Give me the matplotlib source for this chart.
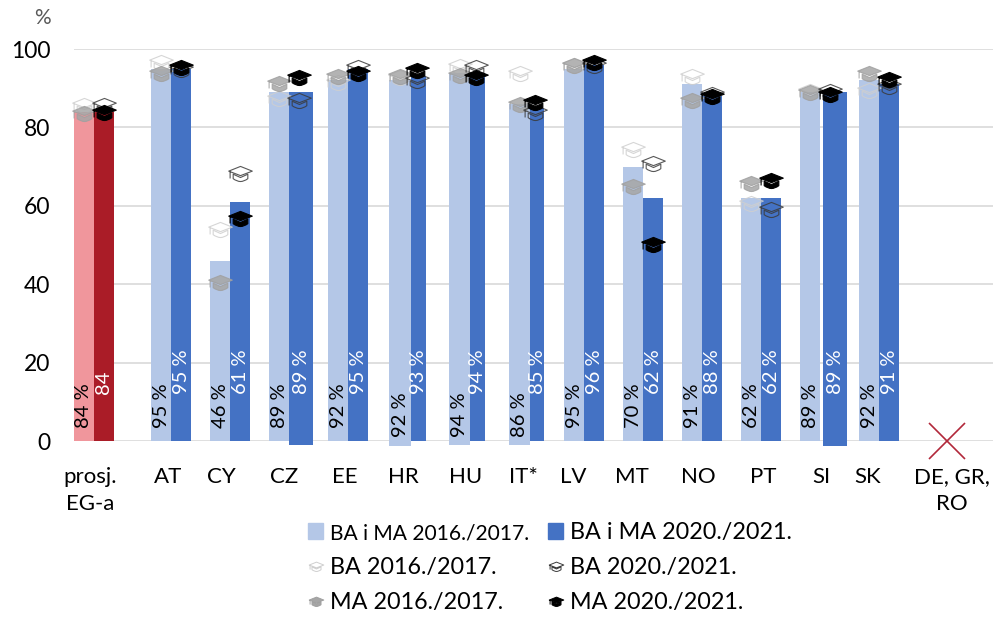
import numpy as np
import matplotlib
matplotlib.use("Agg")
import matplotlib.pyplot as plt
from matplotlib.path import Path
from matplotlib.patches import Patch
from matplotlib.lines import Line2D

plt.rcParams['font.family'] = ['Lato', 'DejaVu Sans']

categories = ['prosj.\nEG-a', 'AT', 'CY', 'CZ', 'EE', 'HR', 'HU', 'IT*', 'LV', 'MT', 'NO', 'PT', 'SI', 'SK', 'DE, GR,\nRO']
total_2016 = [84, 95, 46, 89, 92, 92, 94, 86, 95, 70, 91, 62, 89, 92]
total_2020 = [84, 95, 61, 89, 95, 93, 94, 85, 96, 62, 88, 62, 89, 91]
ba_2016 = [85.7, 96.6, 54.0, 87.4, 91.5, 92.8, 95.7, 94.0, 96.0, 74.4, 93.2, 60.7, 89.3, 89.6]
ma_2016 = [83.6, 94.0, 40.5, 91.4, 93.0, 93.0, 93.4, 86.0, 96.0, 65.0, 87.0, 65.7, 89.0, 93.8]
ba_2020 = [85.7, 95.0, 68.4, 87.0, 95.5, 92.0, 95.3, 84.0, 95.8, 70.8, 88.5, 59.2, 89.2, 90.5]
ma_2020 = [84.0, 95.3, 57.0, 92.8, 94.0, 94.6, 92.8, 86.6, 96.6, 50.3, 88.0, 66.7, 88.5, 92.3]

LEFT, RIGHT, TOP, BOTTOM = 74, 993, 49, 441
W, H = 993, 618
STEP = 59.0            # pixels per category

fig = plt.figure(figsize=(W / 100, H / 100), dpi=100)
ax = fig.add_axes([LEFT / W, 1 - BOTTOM / H, (RIGHT - LEFT) / W, (BOTTOM - TOP) / H])

# category centres: a wider gap after the average and before the last group
x = np.arange(len(categories), dtype=float)
x[1:] += 0.32
x[-1] += 0.14
x0 = 93.5
ax.set_xlim((LEFT - x0) / STEP, (RIGHT - x0) / STEP)
ax.set_ylim(0, 100)

# small per-bar layout quirks of the original (pixels): left offset, width, below-zero drop
light_style = {'HR': (-18, 22, 1.2), 'HU': (-17, 21, 1.0), 'IT*': (-16, 21, 1.0)}
dark_style = {'CZ': (0, 24, 1.0), 'SI': (3, 24, 1.2),
              'HR': (4, 15, 0), 'HU': (4, 15, 0), 'IT*': (5, 14, 0)}

n = len(total_2016)
for i in range(n):
    cat = categories[i]
    c_light, c_dark = ('#f0969c', '#aa1c27') if i == 0 else ('#b4c7e7', '#4472c4')
    off, wid, drop = dark_style.get(cat, (0, 20, 0))
    dleft = x[i] + off / STEP
    ax.bar(dleft, total_2020[i] + drop, wid / STEP, bottom=-drop, align='edge',
           color=c_dark, zorder=2, clip_on=False)
    off2, wid2, drop2 = light_style.get(cat, (-20, 20, 0))
    lleft = x[i] + off2 / STEP
    ax.bar(lleft, total_2016[i] + drop2, wid2 / STEP, bottom=-drop2, align='edge',
           color=c_light, zorder=3, clip_on=False)
    ax.text(lleft + wid2 / STEP / 2, 0.9 if drop2 else 3.3, f'{total_2016[i]} %', rotation=90,
            ha='center', va='bottom', fontsize=14.5, color='black', zorder=6)
    label = '84' if i == 0 else f'{total_2020[i]} %'
    ax.text(dleft + wid / STEP / 2, 12.0, label, rotation=90, ha='center', va='bottom',
            fontsize=14.5, color='white', zorder=6)

# graduation cap marker
bowl = [(-0.62, -0.06), (-0.62, -0.44), (-0.3, -0.68), (0.0, -0.68), (0.3, -0.68), (0.62, -0.44), (0.62, -0.06),
        (0.0, -0.34), (-0.62, -0.06)]
bowl_codes = [Path.MOVETO, Path.LINETO, Path.CURVE3, Path.CURVE3, Path.CURVE3, Path.CURVE3, Path.LINETO,
              Path.LINETO, Path.CLOSEPOLY]
board = [(-1, 0.2), (0, 0.6), (1, 0.2), (0, -0.18), (-1, 0.2)]
board_codes = [Path.MOVETO, Path.LINETO, Path.LINETO, Path.LINETO, Path.CLOSEPOLY]
tassel = [(-0.88, 0.2), (-0.88, -0.42)]
tassel_codes = [Path.MOVETO, Path.LINETO]
cap = Path(bowl + board + tassel, bowl_codes + board_codes + tassel_codes)

light_x = [x[i] + (light_style.get(categories[i], (-20, 20, 0))[0] + light_style.get(categories[i], (-20, 20, 0))[1] / 2) / STEP for i in range(n)]
dark_x = [x[i] + 10 / STEP for i in range(n)]

cap_styles = [
    (light_x, ba_2016, 'none', '#cfcfcf'),
    (light_x, ma_2016, '#a6a6a6', '#a0a0a0'),
    (dark_x, ba_2020, 'none', '#3a3a3a'),
    (dark_x, ma_2020, '#000000', '#000000'),
]
for k, (xs, ys, fc, ec) in enumerate(cap_styles):
    ax.plot(xs, ys, ls='none', marker=cap, ms=17, mfc=fc, mec=ec, mew=0.8,
            alpha=0.85 if k < 3 else 1.0, zorder=5 + k * 0.1, clip_on=False)

# countries without data
ax.plot(x[-1], 0, marker='x', ms=26, mew=1.2, color='#b2283a', zorder=4, clip_on=False)

label_shift = np.array([-3, -3, -9, -5, -4, -4, -1, -2, -11, -11, -4, 2, 1, -12, 5]) / STEP
ax.set_xticks(x + label_shift)
ax.set_xticklabels(categories, fontsize=16, color='black', linespacing=1.46)
ax.set_yticks([0, 20, 40, 60, 80, 100])
ax.tick_params(axis='both', length=0)
ax.tick_params(axis='y', labelsize=16.5, pad=17)
ax.tick_params(axis='x', pad=18.5)
ax.grid(axis='y', color='#d9d9d9', lw=1.2, zorder=0)
ax.set_axisbelow(True)
for s in ax.spines.values():
    s.set_visible(False)

fig.text(42 / W, 1 - 18 / H, '%', ha='center', va='center', fontsize=15, color='#595959')


def cap_handle(fc, ec):
    return Line2D([], [], ls='none', marker=cap, ms=10.5, mfc=fc, mec=ec, mew=0.7)


handles = [Patch(color='#b4c7e7'), cap_handle('none', '#cfcfcf'), cap_handle('#a6a6a6', '#a0a0a0'),
           Patch(color='#4472c4'), cap_handle('none', '#3a3a3a'), cap_handle('#000000', '#000000')]
labels = ['BA i MA 2016./2017.', 'BA 2016./2017.', 'MA 2016./2017.',
          'BA i MA 2020./2021.', 'BA 2020./2021.', 'MA 2020./2021.']
leg = fig.legend(handles, labels, ncol=2, frameon=False, fontsize=16.8,
                 loc='upper left', bbox_to_anchor=(308 / W, 1 - 522 / H), borderpad=0, borderaxespad=0,
                 handlelength=0.65, handleheight=0.65, handletextpad=0.3, labelspacing=0.6, columnspacing=0.81)
leg.get_texts()[0].set_fontsize(15.1)

fig.savefig('out.png', dpi=100)
